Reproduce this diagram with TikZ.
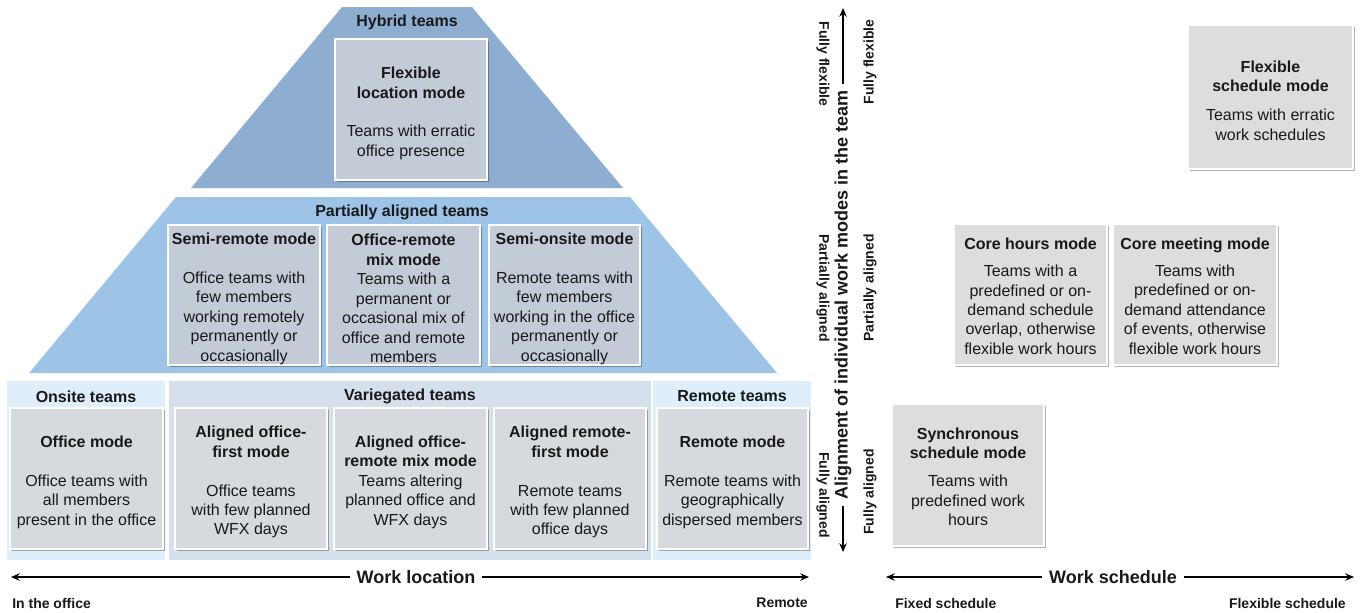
\documentclass[tikz,border=0pt]{standalone}
\usepackage{fontspec}
\setmainfont{Liberation Sans}
\usetikzlibrary{arrows.meta,shadows}

\definecolor{hyb}{RGB}{141,174,208}
\definecolor{par}{RGB}{157,195,230}
\definecolor{boxA}{RGB}{194,203,214}
\definecolor{boxB}{RGB}{214,217,222}
\definecolor{boxC}{RGB}{221,221,221}
\definecolor{bandL}{RGB}{222,238,251}
\definecolor{bandV}{RGB}{213,224,236}
\definecolor{ink}{RGB}{25,25,25}
\newcommand\tpA{\rule{0pt}{14.2pt}}
\newcommand\tpB{\rule{0pt}{11pt}}

\begin{document}
\begin{tikzpicture}[x=0.75pt,y=-0.75pt,
  mb/.style n args={2}{minimum width=#1*0.75pt, minimum height=#2*0.75pt},
  modebox/.style={draw=white, line width=1.6pt, inner sep=0pt, align=center, text=ink,
    font=\fontsize{12}{14.6}\selectfont,
    drop shadow={shadow xshift=1.2pt, shadow yshift=-1.4pt, opacity=0.3, fill=black}},
  hdr/.style={font=\bfseries\fontsize{12}{14.6}\selectfont, inner sep=0pt, text=ink},
  axl/.style={font=\bfseries\fontsize{13.5}{16}\selectfont, inner ysep=0pt, inner xsep=5pt, text=ink},
  sml/.style={font=\bfseries\fontsize{10.5}{12}\selectfont, inner sep=0pt, text=ink},
  axarr/.style={line width=1.1pt, -{Stealth[length=6.5pt,width=5.5pt]}}
]
\useasboundingbox (0,0) rectangle (1363,612);

% ---------- background shapes ----------
\fill[hyb] (342,7) -- (472,7) -- (623,188) -- (191,188) -- cycle;
\fill[par] (176,197) -- (630,197) -- (777,373) -- (29,373) -- cycle;
\fill[bandL] (7,381) rectangle (165,560);
\fill[bandV] (169,381) rectangle (651,560);
\fill[bandL] (653,381) rectangle (811,560);

% ---------- headers ----------
\node[hdr] (hybt) at (407,22.5) {Hybrid teams};
\node[hdr] (part) at (402,212.5) {Partially aligned teams};
\node[hdr] (onst) at (86,396.5) {Onsite teams};
\node[hdr] (vart) at (410,396.5) {Variegated teams};
\node[hdr] (remt) at (732,396.5) {Remote teams};

% ---------- hybrid ----------
\node[modebox, fill=boxA, mb={152}{141}] (flexloc) at (411,109.5)
  {\tpA\textbf{Flexible}\\\textbf{location mode}\\[14.3pt]Teams with erratic\\office presence};

% ---------- partially aligned ----------
\node[modebox, fill=boxA, mb={152}{140}] (semirem) at (244,295)
  {\tpA\textbf{Semi-remote mode}\\[14.6pt]Office teams with\\few members\\working remotely\\permanently or\\occasionally};
\node[modebox, fill=boxA, mb={153}{140}] (offremmix) at (403.5,295)
  {\tpA\textbf{Office-remote}\\\textbf{mix mode}\\Teams with a\\permanent or\\occasional mix of\\office and remote\\members};
\node[modebox, fill=boxA, mb={151}{140}] (semions) at (564.5,295)
  {\tpA\textbf{Semi-onsite mode}\\[14.6pt]Remote teams with\\few members\\working in the office\\permanently or\\occasionally};

% ---------- fully aligned row ----------
\node[modebox, fill=boxB, mb={153}{141}] (office) at (86.5,478.5)
  {\tpA\textbf{Office mode}\\[14.6pt]Office teams with\\all members\\present in the office};
\node[modebox, fill=boxB, mb={152}{141}] (aof) at (251,478.5)
  {\tpA\textbf{Aligned office-}\\\textbf{first mode}\\[14.6pt]Office teams\\with few planned\\WFX days};
\node[modebox, fill=boxB, mb={153}{141}] (aorm) at (410.5,478.5)
  {\tpA\textbf{Aligned office-}\\\textbf{remote mix mode}\\Teams altering\\planned office and\\WFX days};
\node[modebox, fill=boxB, mb={152}{141}] (arf) at (570,478.5)
  {\tpA\textbf{Aligned remote-}\\\textbf{first mode}\\[14.6pt]Remote teams\\with few planned\\office days};
\node[modebox, fill=boxB, mb={151}{141}] (remote) at (732.5,478.5)
  {\tpA\textbf{Remote mode}\\[14.6pt]Remote teams with\\geographically\\dispersed members};

% ---------- work schedule boxes ----------
\node[modebox, fill=boxC, mb={165}{144}] (flexsch) at (1270.5,97)
  {\tpA\textbf{Flexible}\\\textbf{schedule mode}\\[7pt]Teams with erratic\\work schedules};
\node[modebox, fill=boxC, mb={153}{141}] (corehrs) at (1030.5,294.5)
  {\tpB\textbf{Core hours mode}\\[6pt]Teams with a\\predefined or on-\\demand schedule\\overlap, otherwise\\flexible work hours};
\node[modebox, fill=boxC, mb={164}{141}] (coremeet) at (1195,294.5)
  {\tpB\textbf{Core meeting mode}\\[5.5pt]Teams with\\predefined or on-\\demand attendance\\of events, otherwise\\flexible work hours};
\node[modebox, fill=boxC, mb={152}{142}] (sync) at (968,475)
  {\tpB\textbf{Synchronous}\\\textbf{schedule mode}\\[6.5pt]Teams with\\predefined work\\hours};

% ---------- work location axis ----------
\node[axl] (wloc) at (416,577) {Work location};
\coordinate (wlocL) at (11,577);
\coordinate (wlocR) at (809,577);
\draw[axarr] (wloc.west) -- (wlocL);
\draw[axarr] (wloc.east) -- (wlocR);
\node[sml, anchor=west] (inoff) at (12,603) {In the office};
\node[sml, anchor=east] (remlab) at (808,603) {Remote};

% ---------- work schedule axis ----------
\node[axl] (wsch) at (1113,577) {Work schedule};
\coordinate (wschL) at (886,577);
\coordinate (wschR) at (1354,577);
\draw[axarr] (wsch.west) -- (wschL);
\draw[axarr] (wsch.east) -- (wschR);
\node[sml, anchor=west] (fixlab) at (895,603) {Fixed schedule};
\node[sml, anchor=east] (flexlab) at (1346,603) {Flexible schedule};

% ---------- alignment axis ----------
\node[axl, rotate=90] (align) at (843,295) {Alignment of individual work modes in the team};
\coordinate (alT) at (843,8);
\coordinate (alB) at (843,552);
\draw[axarr] (align.east) -- (alT);
\draw[axarr] (align.west) -- (alB);

\node[sml, rotate=-90] (lff) at (823,64) {Fully flexible};
\node[sml, rotate=-90] (lpa) at (823,288) {Partially aligned};
\node[sml, rotate=-90] (lfa) at (823,495) {Fully aligned};
\node[sml, rotate=90] (rff) at (870,62) {Fully flexible};
\node[sml, rotate=90] (rpa) at (870,288) {Partially aligned};
\node[sml, rotate=90] (rfa) at (870,492) {Fully aligned};
\end{tikzpicture}
\end{document}
